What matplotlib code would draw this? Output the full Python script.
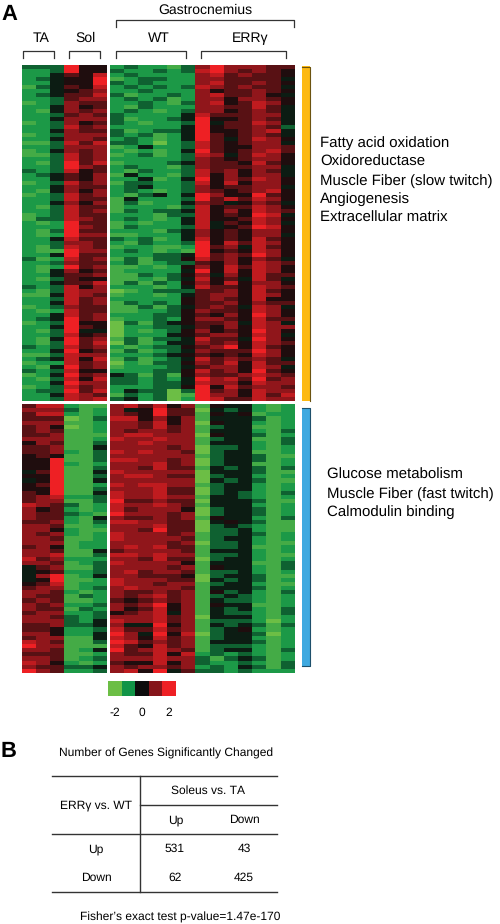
import numpy as np
import matplotlib
matplotlib.use("Agg")
import matplotlib.pyplot as plt
from matplotlib.colors import LinearSegmentedColormap

plt.rcParams['font.family'] = ['Liberation Sans', 'DejaVu Sans']
plt.rcParams['text.hinting'] = 'no_hinting'
plt.rcParams['text.hinting_factor'] = 1

# heatmap rows, one digit per cell: 0 = -2 (green) ... 9 = +2 (red)
# groups are TA, Sol, WT, ERRg
top_rows = [
    "333 955 232213 7977766", "223 955 322323 8976765", "224 658 232222 7867665",
    "234 559 123322 7766664", "224 559 323222 7866765", "134 658 232323 8767664",
    "224 567 223222 7566765", "234 668 312232 7866754", "223 677 232312 7757765",
    "123 766 223213 7856875", "224 756 213222 7766864", "214 767 232123 7756764",
    "223 676 322224 8666774", "224 777 312234 9556764", "123 756 321223 9466874",
    "223 867 222224 9566763", "224 766 312334 9556784", "123 777 323124 9656764",
    "224 776 232124 9646875", "113 868 332023 8656774", "223 777 124223 8655776",
    "124 767 212124 9656786", "113 867 123123 8746875", "223 867 222223 7656775",
    "213 968 122234 7665865", "223 976 232213 7666774", "323 856 213223 8675764",
    "234 657 142213 8575774", "224 657 224124 9576875", "123 867 133223 8585775",
    "224 766 234223 7566774", "214 757 232123 7656785", "123 867 213424 9755965",
    "223 866 142223 9686875", "224 757 131224 7645764", "213 866 122213 8566875",
    "223 867 132334 8575876", "123 866 222133 8565984", "133 876 232124 8556875",
    "212 966 121224 8465874", "222 976 132223 8456985", "213 966 222134 7565775",
    "212 977 112224 7565774", "224 866 323124 8565865", "223 776 213223 9586875",
    "213 876 122112 9674865", "211 977 232121 9565875", "224 966 222334 9676975",
    "312 867 131335 8675764", "223 766 231233 6575876", "212 967 112125 7586875",
    "214 756 122224 9585875", "224 667 113235 7475866", "213 655 112134 8564864",
    "224 668 131325 7585775", "323 857 222124 8665876", "213 877 012333 6675865",
    "114 876 122124 6775875", "223 867 222225 6765855", "224 867 132325 6675766",
    "123 766 113134 6764874", "212 866 112235 7665875", "224 867 222335 6575975",
    "234 967 122325 7765866", "123 955 031345 6674874", "224 965 022334 6575877",
    "213 944 021235 7565975", "223 856 022245 6775874", "214 967 131334 8664975",
    "213 968 031244 7675876", "323 867 212335 6795865", "224 956 131234 7666975",
    "113 877 222345 6565875", "234 858 131234 8676764", "122 867 021335 7685866",
    "214 967 122234 6775874", "323 855 222335 8675965", "124 967 431315 7667876",
    "213 858 332324 9786967", "224 977 332334 8775877", "123 867 222335 9586776",
    "233 968 243303 9675877", "224 876 132301 9775868", "223 878 342302 9866877",
]

bottom_rows = [
    "688 211 786857 1544212", "777 312 745966 0434212", "688 212 765966 1545122",
    "666 013 885757 1444312", "777 112 776857 0544212", "675 012 776867 1344112",
    "676 112 767767 1444213", "667 111 788777 0544312", "777 112 877877 1344113",
    "576 113 778777 1444213", "667 114 777767 0334212", "667 213 878776 0344112",
    "565 113 777777 1344311", "559 113 887767 0344312", "559 212 777867 0344112",
    "559 113 776866 1434313", "469 114 877777 0444311", "559 113 788766 0344212",
    "459 114 777777 0434311", "569 112 878877 1344212", "559 113 777866 0344212",
    "659 114 877866 0343213", "678 223 877877 1443212", "677 113 966766 0444311",
    "876 312 877876 1444212", "756 212 867775 0344312", "766 321 977767 0344312",
    "766 214 766767 1544213", "667 213 887766 0454311", "776 112 777866 0343211",
    "775 211 776966 0334211", "767 212 877767 1334312", "776 112 877776 1344212",
    "777 122 777767 0334211", "675 122 787866 1334112", "776 114 677776 1444212",
    "778 113 887877 1334211", "867 222 776866 0344212", "776 123 877775 1444113",
    "467 113 777767 1544213", "456 223 786776 1334212", "479 124 776665 0344311",
    "459 112 877766 0434312", "568 122 877677 1344211", "677 123 787776 1444312",
    "776 212 766767 1534213", "766 132 767867 1343212", "676 112 656767 1433212",
    "767 223 767957 1544112", "766 132 756857 1434213", "677 223 567847 1433213",
    "776 323 777867 0444212", "777 324 877867 1333202", "667 334 744957 1434313",
    "665 223 866867 1345212", "775 224 974958 0344302", "677 114 875867 1344212",
    "876 113 986767 1444312", "977 111 865867 1333212", "776 124 967876 1344213",
    "666 112 766858 2323212", "776 123 777877 3134312", "875 212 655857 3223213",
    "766 334 767767 2324313", "976 223 785946 3323222",
]

legend_levels = [-2, -1, 0, 1, 2]
legend_ticks = [-2, 0, 2]

group_names = ["TA", "Sol", "WT", "ERRγ"]
group_centers = [41, 85, 159, 250]
group_left = [23, 69, 116, 201]
group_right = [54, 100, 186, 286]

top_terms = ["Fatty acid oxidation", "Oxidoreductase", "Muscle Fiber (slow twitch)",
             "Angiogenesis", "Extracellular matrix"]
bottom_terms = ["Glucose metabolism", "Muscle Fiber (fast twitch)", "Calmodulin binding"]

table_header = ["Up", "Down"]
table_rows = ["Up", "Down"]
table_up = [531, 43]
table_down = [62, 425]


def decode(rows):
    # digit strings to values on the -2..2 scale
    cells = [[int(c) for c in r.replace(" ", "")] for r in rows]
    return (np.array(cells) - 4.5) * 4 / 9


W, H = 500, 924
fig = plt.figure(figsize=(W / 100, H / 100), dpi=100)
# black held over a small band round zero, the map looks that way in the key
cmap = LinearSegmentedColormap.from_list(
    "gr", [(0, "#6CBE45"), (0.25, "#129548"), (0.47, "#0c0c0c"), (0.52, "#0c0c0c"),
           (0.75, "#84151a"), (1, "#EE2024")])


def pix_axes(x0, y0, x1, y1):
    # axes placed by pixel box, y measured from the top
    a = fig.add_axes([x0 / W, 1 - y1 / H, (x1 - x0) / W, (y1 - y0) / H])
    a.set_xticks([])
    a.set_yticks([])
    for s in a.spines.values():
        s.set_visible(False)
    return a


top = decode(top_rows)
bottom = decode(bottom_rows)
boxes = [(22, 107, 0, 6, top, 65, 401), (110, 295, 6, 19, top, 65, 401),
         (22, 107, 0, 6, bottom, 404, 673), (110, 295, 6, 19, bottom, 404, 673)]
for x0, x1, c0, c1, vals, y0, y1 in boxes:
    a = pix_axes(x0, y0, x1, y1)
    a.imshow(vals[:, c0:c1], cmap=cmap, vmin=-2, vmax=2, aspect="auto",
             interpolation="nearest")

lg = pix_axes(108, 681, 176, 696)
lg.imshow([legend_levels], cmap=cmap, vmin=-2, vmax=2, aspect="auto")
lg.set_xticks([legend_levels.index(t) for t in legend_ticks])
lg.set_xticklabels([str(t) for t in legend_ticks], fontsize=8.5)
lg.tick_params(length=0, pad=8)

# overlay in pixel coordinates for text, brackets, bars and table
ov = fig.add_axes([0, 0, 1, 1], zorder=5)
ov.set_xlim(0, W)
ov.set_ylim(H, 0)
ov.axis("off")


def bracket(x0, x1, y0, y1):
    ov.plot([x0, x0, x1, x1], [y1, y0, y0, y1], color="#333333", lw=0.9)


for name, cx, l, r in zip(group_names, group_centers, group_left, group_right):
    ov.text(cx, 38, name, ha="center", va="center", fontsize=10.4)
    bracket(l, r, 51, 58)
bracket(116, 294, 20, 27)
ov.text(205, 10, "Gastrocnemius", ha="center", va="center", fontsize=10.4)

ov.text(1, 14, "A", fontsize=16, fontweight="bold", va="center")
ov.text(1, 751, "B", fontsize=16, fontweight="bold", va="center")

# side bars
ov.fill_between([302, 310], 66, 401, color="#FDB913", lw=0)
ov.plot([302, 310, 310], [66.5, 66.5, 401], color="#6b5310", lw=0.8)
ov.fill_between([302, 310], 408, 666, color="#3FA9E0", lw=0)
ov.plot([302, 310, 310, 302], [408, 408, 666, 666], color="#1d4f6b", lw=0.8)

for i, t in enumerate(top_terms):
    ov.text(320, 143.5 + i * 18.6, t, fontsize=10.9, va="center")
for i, t in enumerate(bottom_terms):
    ov.text(327, 475 + i * 18.6, t, fontsize=10.9, va="center")

# panel B table
for y, x0 in [(776, 52), (805, 140), (834, 52), (892, 52)]:
    ov.plot([x0, 277], [y, y], color="#333333", lw=1)
ov.plot([140, 140], [776, 892], color="#333333", lw=1)

ov.text(166, 753, "Number of Genes Significantly Changed", ha="center", va="center", fontsize=8.5)
ov.text(208, 791, "Soleus vs. TA", ha="center", va="center", fontsize=8.5)
ov.text(96, 805, "ERRγ vs. WT", ha="center", va="center", fontsize=8.5)
for cx, t in zip([176, 244], table_header):
    ov.text(cx, 820, t, ha="center", va="center", fontsize=8.5)
for y, name, vals in zip([849, 878], table_rows, [table_up, table_down]):
    ov.text(96, y, name, ha="center", va="center", fontsize=8.5)
    for cx, v in zip([175, 244], vals):
        ov.text(cx, y, str(v), ha="center", va="center", fontsize=8.5)
ov.text(180, 917, "Fisher’s exact test p-value=1.47e-170", ha="center", va="center", fontsize=8.5)

fig.savefig("out.png", dpi=100)
